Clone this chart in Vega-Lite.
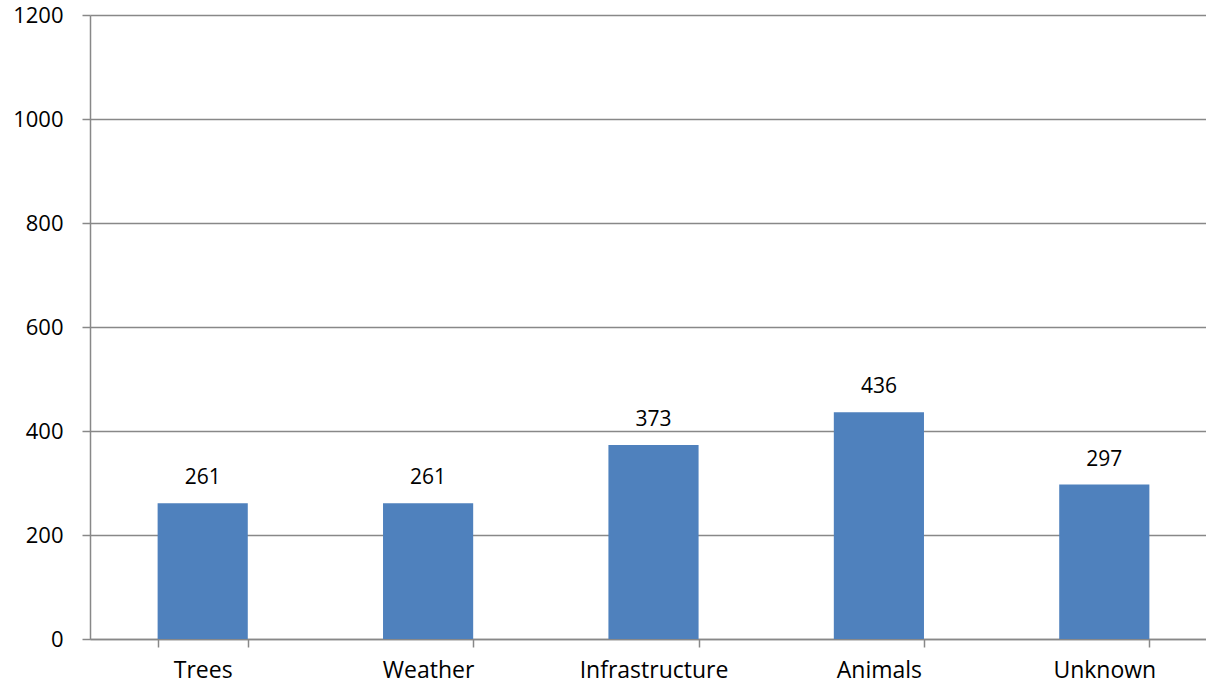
{
  "$schema": "https://vega.github.io/schema/vega-lite/v6.json",
  "width": 1116,
  "height": 624,
  "autosize": {"type": "none"},
  "padding": {"left": 90, "top": 15, "right": 0, "bottom": 48},
  "background": "white",
  "config": {"view": {"stroke": null}, "font": "Open Sans"},
  "data": {"values": [
    {"cause": "Trees", "count": 261},
    {"cause": "Weather", "count": 261},
    {"cause": "Infrastructure", "count": 373},
    {"cause": "Animals", "count": 436},
    {"cause": "Unknown", "count": 297}
  ]},
  "encoding": {
    "x": {"field": "cause", "type": "nominal", "sort": null,
      "scale": {"range": [0, 1127], "paddingInner": 0.6, "paddingOuter": 0.3},
      "axis": {"title": null, "labelAngle": 0, "labelFont": "Open Sans", "labelFontSize": 23, "labelColor": "#000000",
        "labelPadding": 12, "tickBand": "extent", "tickSize": 8, "tickColor": "#888888", "tickWidth": 1.5,
        "domainColor": "#888888", "domainWidth": 1.5, "grid": false}},
    "y": {"field": "count", "type": "quantitative",
      "scale": {"domain": [0, 1200], "nice": false},
      "axis": {"title": null, "values": [0, 200, 400, 600, 800, 1000, 1200], "format": "d", "labelFont": "Open Sans", "labelFontSize": 22,
        "labelColor": "#000000", "labelPadding": 19, "tickSize": 8, "tickColor": "#888888", "tickWidth": 1.5,
        "domainColor": "#888888", "domainWidth": 1.5,
        "gridColor": "#888888", "gridOpacity": 1, "gridWidth": 1.5}}
  },
  "layer": [
    {"mark": {"type": "bar", "color": "#4F81BD"}},
    {"mark": {"type": "text", "baseline": "alphabetic", "dy": -19, "font": "Open Sans", "fontSize": 21, "color": "#000000"},
      "encoding": {"text": {"field": "count", "type": "quantitative"}}}
  ]
}
